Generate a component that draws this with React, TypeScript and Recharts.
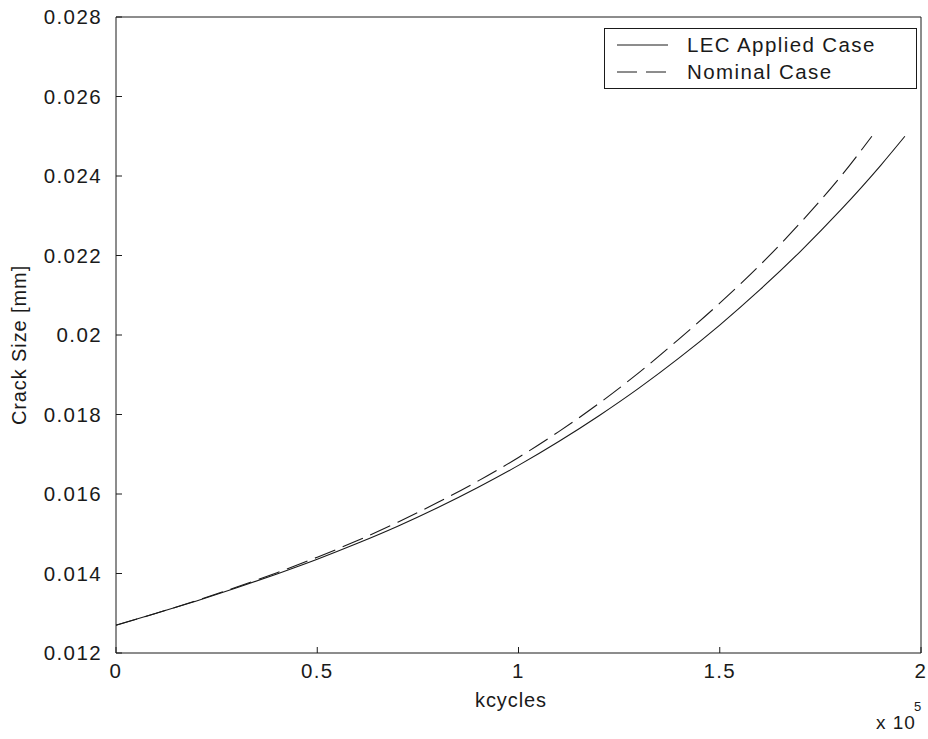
import React from "react";
import { LineChart, Line, XAxis, YAxis, Customized } from "recharts";

// Crack growth: cycles vs crack size [mm]
const lecCycles = [0, 10000, 20000, 30000, 40000, 50000, 60000, 70000, 80000, 90000, 100000, 110000, 120000, 130000, 140000, 150000, 160000, 170000, 180000, 190000, 196000];
const lecCrack = [0.0127, 0.013, 0.01331, 0.01364, 0.01399, 0.01436, 0.01476, 0.01519, 0.01566, 0.01617, 0.01672, 0.01732, 0.01797, 0.01867, 0.01943, 0.02025, 0.02114, 0.0221, 0.02314, 0.02427, 0.025];

const nomCycles = [0, 10000, 20000, 30000, 40000, 50000, 60000, 70000, 80000, 90000, 100000, 110000, 120000, 130000, 140000, 150000, 160000, 170000, 180000, 187800];
const nomCrack = [0.0127, 0.013, 0.01332, 0.01366, 0.01402, 0.01441, 0.01483, 0.01529, 0.01579, 0.01633, 0.01692, 0.01757, 0.01828, 0.01906, 0.01991, 0.0208, 0.02176, 0.02282, 0.02398, 0.025];

const xTicks = [0, 50000, 100000, 150000, 200000];
const yTicks = [0.012, 0.014, 0.016, 0.018, 0.02, 0.022, 0.024, 0.026, 0.028];

const seriesNames = ["LEC Applied Case", "Nominal Case"];
const xTitle = "kcycles";
const yTitle = "Crack Size [mm]";

const lecData = lecCycles.map((c, i) => ({ cycles: c, crack: lecCrack[i] }));
const nomData = nomCycles.map((c, i) => ({ cycles: c, crack: nomCrack[i] }));

const FONT = "'Liberation Sans', Arial, Helvetica, sans-serif";
const INK = "#1a1a1a";
const W = 928;
const H = 739;
const DASH = "22 8";
const TICK_LEN = 6;
const X_GAP = 10;
const Y_GAP = 14;

const fmtX = (v: number) => String(v / 100000);
const fmtY = (v: number) => String(Number(v.toFixed(3)));

// Tick renderers: labels outside, short tick marks pointing into the plot
const BottomTick = (p: any) => (
  <g>
    <line x1={p.x} x2={p.x} y1={p.y - X_GAP} y2={p.y - X_GAP - TICK_LEN} stroke={INK} strokeWidth={1} />
    <text x={p.x} y={p.y} dy="0.71em" textAnchor="middle" fontFamily={FONT} fontSize={20.5} letterSpacing={1.4} fill={INK}>
      {fmtX(p.payload.value)}
    </text>
  </g>
);
const LeftTick = (p: any) => (
  <g>
    <line x1={p.x + Y_GAP} x2={p.x + Y_GAP + TICK_LEN} y1={p.y} y2={p.y} stroke={INK} strokeWidth={1} />
    <text x={p.x} y={p.y} dy="0.355em" textAnchor="end" fontFamily={FONT} fontSize={20.5} letterSpacing={1.4} fill={INK}>
      {fmtY(p.payload.value)}
    </text>
  </g>
);
const TopTick = (p: any) => (
  <line x1={p.x} x2={p.x} y1={p.y} y2={p.y + TICK_LEN} stroke={INK} strokeWidth={1} />
);
const RightTick = (p: any) => (
  <line x1={p.x} x2={p.x - TICK_LEN} y1={p.y} y2={p.y} stroke={INK} strokeWidth={1} />
);

// Boxed legend in the upper right of the plot
const LegendBox = () => (
  <g transform="translate(604 28)">
    <rect x={0.5} y={0.5} width={312} height={60} fill="#fff" stroke={INK} strokeWidth={1} />
    {seriesNames.map((name, i) => {
      const cy = 17 + i * 27;
      return (
        <g key={name}>
          <line x1={13} x2={64} y1={cy} y2={cy} stroke={INK} strokeWidth={1}
            strokeDasharray={i === 1 ? "20 9" : undefined} />
          <text x={83} y={cy + 7} fontFamily={FONT} fontSize={20.5} letterSpacing={1.4} fill={INK}>{name}</text>
        </g>
      );
    })}
  </g>
);

const Titles = () => (
  <g fontFamily={FONT} fill={INK}>
    <text x={511} y={707} textAnchor="middle" fontSize={20} letterSpacing={0.9}>{xTitle}</text>
    <text x={0} y={0} textAnchor="middle" fontSize={20} letterSpacing={0.9} transform="translate(26 345) rotate(-90)">{yTitle}</text>
    <text x={876} y={729} fontSize={19} letterSpacing={1}>x 10</text>
    <text x={914} y={711} fontSize={13}>5</text>
  </g>
);

export default function App() {
  return (
    <div style={{ position: "absolute", left: 0, top: 0 }}>
      <LineChart width={W} height={H} margin={{ top: 16, right: 6, left: 0, bottom: 46 }}>
        <XAxis
          xAxisId="bottom"
          dataKey="cycles"
          type="number"
          domain={[0, 200000]}
          ticks={xTicks}
          tickLine={false}
          tickSize={0}
          tickMargin={X_GAP}
          height={40}
          stroke={INK}
          tick={BottomTick}
          interval={0}
          allowDataOverflow
        />
        <XAxis
          xAxisId="top"
          orientation="top"
          dataKey="cycles"
          type="number"
          domain={[0, 200000]}
          ticks={xTicks}
          tickLine={false}
          tickSize={0}
          tickMargin={0}
          height={1}
          tick={TopTick}
          interval={0}
          stroke={INK}
        />
        <YAxis
          yAxisId="left"
          type="number"
          domain={[0.012, 0.028]}
          ticks={yTicks}
          tickLine={false}
          tickSize={0}
          tickMargin={Y_GAP}
          width={116}
          stroke={INK}
          tick={LeftTick}
          interval={0}
          allowDataOverflow
        />
        <YAxis
          yAxisId="right"
          orientation="right"
          type="number"
          domain={[0.012, 0.028]}
          ticks={yTicks}
          tickLine={false}
          tickSize={0}
          tickMargin={0}
          width={1}
          tick={RightTick}
          interval={0}
          stroke={INK}
        />
        <Line
          xAxisId="bottom"
          yAxisId="left"
          data={lecData}
          dataKey="crack"
          name={seriesNames[0]}
          type="monotone"
          stroke={INK}
          strokeWidth={1.1}
          dot={false}
          isAnimationActive={false}
        />
        <Line
          xAxisId="bottom"
          yAxisId="left"
          data={nomData}
          dataKey="crack"
          name={seriesNames[1]}
          type="monotone"
          stroke={INK}
          strokeWidth={1.1}
          strokeDasharray={DASH}
          dot={false}
          isAnimationActive={false}
        />
        <Customized component={LegendBox} />
        <Customized component={Titles} />
      </LineChart>
    </div>
  );
}
